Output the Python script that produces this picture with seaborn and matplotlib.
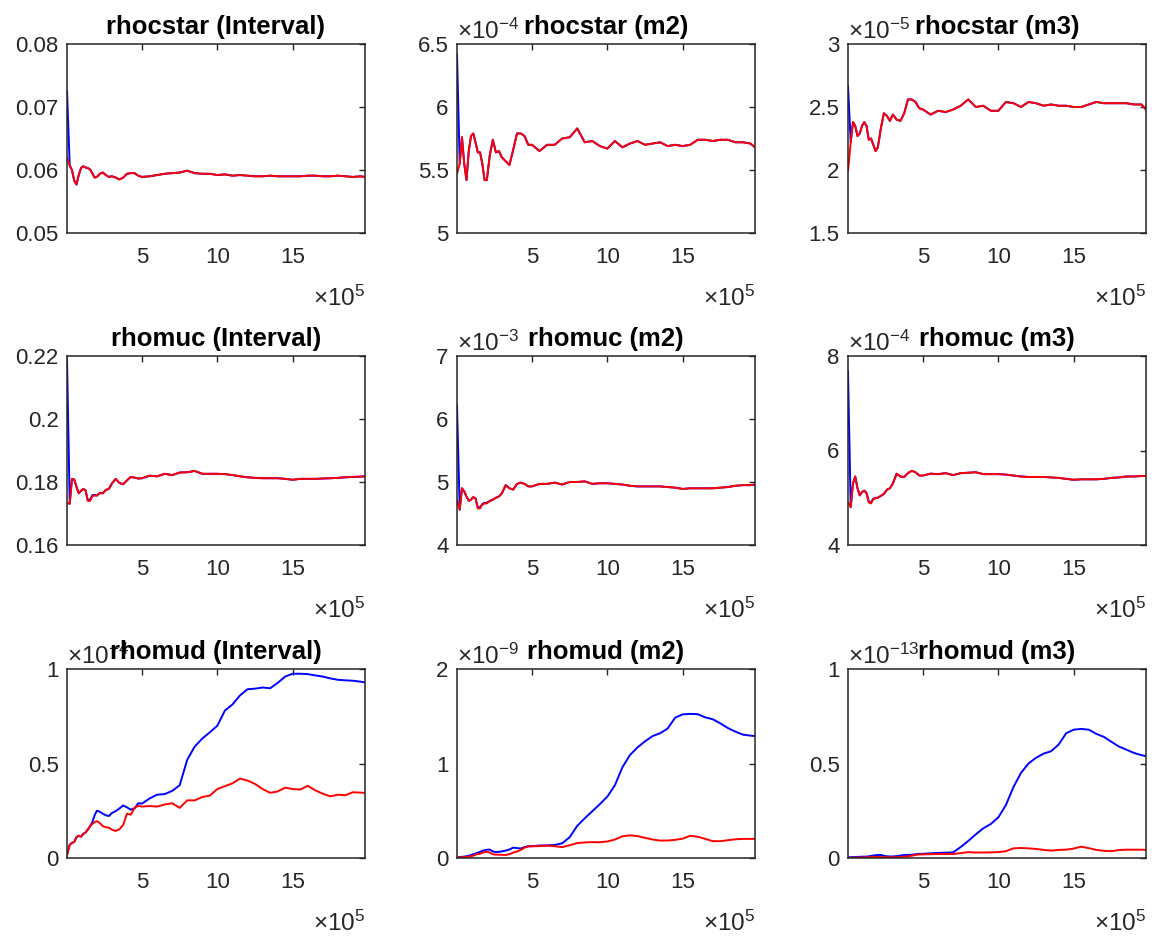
import numpy as np
import pandas as pd
import matplotlib
matplotlib.use("Agg")
import matplotlib.pyplot as plt
from matplotlib.ticker import FuncFormatter
import seaborn as sns

# ---------------- data ----------------
iterations = np.array([2e3, 2e4, 3.5e4, 5e4, 6.5e4, 8e4, 9.5e4, 1.1e5, 1.25e5, 1.4e5, 1.55e5, 1.7e5,
                       1.85e5, 2e5, 2.2e5, 2.4e5, 2.6e5, 2.8e5, 3e5, 3.25e5, 3.5e5, 3.75e5, 4e5,
                       4.25e5, 4.5e5, 4.75e5, 5e5, 5.5e5, 6e5, 6.5e5, 7e5, 7.5e5, 8e5, 8.5e5, 9e5,
                       9.5e5, 1e6, 1.05e6, 1.1e6, 1.15e6, 1.2e6, 1.25e6, 1.3e6, 1.35e6, 1.4e6,
                       1.45e6, 1.5e6, 1.55e6, 1.6e6, 1.65e6, 1.7e6, 1.75e6, 1.8e6, 1.85e6, 1.9e6,
                       1.95e6, 1.98e6])

rhocstar_interval_red = [0.0620, 0.0607, 0.0600, 0.0583, 0.0577, 0.0592, 0.0603, 0.0606, 0.0604, 0.0603,
                         0.0601, 0.0595, 0.0588, 0.0589, 0.0594, 0.0596, 0.0592, 0.0589, 0.0590, 0.0588,
                         0.0585, 0.0588, 0.0594, 0.0595, 0.0595, 0.0591, 0.0589, 0.0590, 0.0592, 0.0594,
                         0.0595, 0.0596, 0.0599, 0.0595, 0.0594, 0.0594, 0.0592, 0.0593, 0.0591, 0.0592,
                         0.0591, 0.0590, 0.0590, 0.0591, 0.0590, 0.0590, 0.0590, 0.0590, 0.0591, 0.0591,
                         0.0590, 0.0590, 0.0591, 0.0590, 0.0589, 0.0590, 0.0589]
rhocstar_interval_blue = [0.0726, 0.0607, 0.0600, 0.0583, 0.0577, 0.0592, 0.0603, 0.0606, 0.0604, 0.0603,
                          0.0601, 0.0595, 0.0588, 0.0589, 0.0594, 0.0596, 0.0592, 0.0589, 0.0590, 0.0588,
                          0.0585, 0.0588, 0.0594, 0.0595, 0.0595, 0.0591, 0.0589, 0.0590, 0.0592, 0.0594,
                          0.0595, 0.0596, 0.0599, 0.0595, 0.0594, 0.0594, 0.0592, 0.0593, 0.0591, 0.0592,
                          0.0591, 0.0590, 0.0590, 0.0591, 0.0590, 0.0590, 0.0590, 0.0590, 0.0591, 0.0591,
                          0.0590, 0.0590, 0.0591, 0.0590, 0.0589, 0.0590, 0.0589]

rhocstar_m2_red = [5.47e-4, 5.55e-4, 5.76e-4, 5.55e-4, 5.42e-4, 5.65e-4, 5.77e-4, 5.79e-4, 5.72e-4, 5.64e-4,
                   5.64e-4, 5.55e-4, 5.42e-4, 5.42e-4, 5.62e-4, 5.74e-4, 5.64e-4, 5.65e-4, 5.60e-4, 5.57e-4,
                   5.54e-4, 5.66e-4, 5.79e-4, 5.79e-4, 5.77e-4, 5.70e-4, 5.70e-4, 5.65e-4, 5.70e-4, 5.70e-4,
                   5.75e-4, 5.76e-4, 5.83e-4, 5.72e-4, 5.73e-4, 5.69e-4, 5.67e-4, 5.73e-4, 5.68e-4, 5.71e-4,
                   5.73e-4, 5.70e-4, 5.71e-4, 5.72e-4, 5.69e-4, 5.70e-4, 5.69e-4, 5.70e-4, 5.74e-4, 5.74e-4,
                   5.73e-4, 5.74e-4, 5.74e-4, 5.72e-4, 5.72e-4, 5.71e-4, 5.68e-4]
rhocstar_m2_blue = [6.42e-4, 5.55e-4, 5.76e-4, 5.55e-4, 5.42e-4, 5.65e-4, 5.77e-4, 5.79e-4, 5.72e-4, 5.64e-4,
                    5.64e-4, 5.55e-4, 5.42e-4, 5.42e-4, 5.62e-4, 5.74e-4, 5.64e-4, 5.65e-4, 5.60e-4, 5.57e-4,
                    5.54e-4, 5.66e-4, 5.79e-4, 5.79e-4, 5.77e-4, 5.70e-4, 5.70e-4, 5.65e-4, 5.70e-4, 5.70e-4,
                    5.75e-4, 5.76e-4, 5.83e-4, 5.72e-4, 5.73e-4, 5.69e-4, 5.67e-4, 5.73e-4, 5.68e-4, 5.71e-4,
                    5.73e-4, 5.70e-4, 5.71e-4, 5.72e-4, 5.69e-4, 5.70e-4, 5.69e-4, 5.70e-4, 5.74e-4, 5.74e-4,
                    5.73e-4, 5.74e-4, 5.74e-4, 5.72e-4, 5.72e-4, 5.71e-4, 5.68e-4]

rhocstar_m3_red = [1.99e-5, 2.22e-5, 2.38e-5, 2.35e-5, 2.27e-5, 2.29e-5, 2.35e-5, 2.38e-5, 2.35e-5, 2.24e-5,
                   2.25e-5, 2.20e-5, 2.15e-5, 2.18e-5, 2.33e-5, 2.45e-5, 2.43e-5, 2.39e-5, 2.44e-5, 2.40e-5,
                   2.39e-5, 2.45e-5, 2.56e-5, 2.56e-5, 2.54e-5, 2.49e-5, 2.48e-5, 2.44e-5, 2.47e-5, 2.46e-5,
                   2.48e-5, 2.51e-5, 2.56e-5, 2.50e-5, 2.51e-5, 2.47e-5, 2.47e-5, 2.54e-5, 2.53e-5, 2.50e-5,
                   2.54e-5, 2.53e-5, 2.51e-5, 2.52e-5, 2.51e-5, 2.51e-5, 2.50e-5, 2.50e-5, 2.52e-5, 2.54e-5,
                   2.53e-5, 2.53e-5, 2.53e-5, 2.53e-5, 2.52e-5, 2.52e-5, 2.48e-5]
rhocstar_m3_blue = [2.67e-5, 2.22e-5, 2.38e-5, 2.35e-5, 2.27e-5, 2.29e-5, 2.35e-5, 2.38e-5, 2.35e-5, 2.24e-5,
                    2.25e-5, 2.20e-5, 2.15e-5, 2.18e-5, 2.33e-5, 2.45e-5, 2.43e-5, 2.39e-5, 2.44e-5, 2.40e-5,
                    2.39e-5, 2.45e-5, 2.56e-5, 2.56e-5, 2.54e-5, 2.49e-5, 2.48e-5, 2.44e-5, 2.47e-5, 2.46e-5,
                    2.48e-5, 2.51e-5, 2.56e-5, 2.50e-5, 2.51e-5, 2.47e-5, 2.47e-5, 2.54e-5, 2.53e-5, 2.50e-5,
                    2.54e-5, 2.53e-5, 2.51e-5, 2.52e-5, 2.51e-5, 2.51e-5, 2.50e-5, 2.50e-5, 2.52e-5, 2.54e-5,
                    2.53e-5, 2.53e-5, 2.53e-5, 2.53e-5, 2.52e-5, 2.52e-5, 2.48e-5]

rhomuc_interval_red = [0.1733, 0.1731, 0.1810, 0.1808, 0.1785, 0.1764, 0.1772, 0.1778, 0.1774, 0.1740,
                       0.1740, 0.1755, 0.1757, 0.1757, 0.1765, 0.1764, 0.1775, 0.1778, 0.1795, 0.1810,
                       0.1797, 0.1793, 0.1805, 0.1816, 0.1814, 0.1811, 0.1812, 0.1820, 0.1818, 0.1826,
                       0.1822, 0.1830, 0.1831, 0.1835, 0.1826, 0.1826, 0.1826, 0.1825, 0.1822, 0.1818,
                       0.1815, 0.1813, 0.1812, 0.1812, 0.1812, 0.1810, 0.1807, 0.1810, 0.1810, 0.1810,
                       0.1811, 0.1812, 0.1813, 0.1815, 0.1816, 0.1817, 0.1818]
rhomuc_interval_blue = [0.2193, 0.1731, 0.1810, 0.1808, 0.1785, 0.1764, 0.1772, 0.1778, 0.1774, 0.1742,
                        0.1744, 0.1758, 0.1759, 0.1757, 0.1765, 0.1764, 0.1775, 0.1778, 0.1795, 0.1810,
                        0.1797, 0.1793, 0.1805, 0.1816, 0.1814, 0.1811, 0.1812, 0.1820, 0.1818, 0.1826,
                        0.1822, 0.1830, 0.1831, 0.1835, 0.1826, 0.1826, 0.1826, 0.1825, 0.1822, 0.1818,
                        0.1815, 0.1813, 0.1812, 0.1812, 0.1812, 0.1810, 0.1807, 0.1810, 0.1810, 0.1810,
                        0.1811, 0.1812, 0.1813, 0.1815, 0.1816, 0.1817, 0.1818]

rhomuc_m2_red = [4.71e-3, 4.56e-3, 4.90e-3, 4.85e-3, 4.77e-3, 4.70e-3, 4.72e-3, 4.76e-3, 4.74e-3, 4.58e-3,
                 4.58e-3, 4.64e-3, 4.66e-3, 4.66e-3, 4.70e-3, 4.72e-3, 4.75e-3, 4.77e-3, 4.82e-3, 4.95e-3,
                 4.90e-3, 4.88e-3, 4.97e-3, 4.99e-3, 4.97e-3, 4.93e-3, 4.93e-3, 4.97e-3, 4.97e-3, 4.99e-3,
                 4.96e-3, 5.00e-3, 5.00e-3, 5.01e-3, 4.97e-3, 4.98e-3, 4.98e-3, 4.97e-3, 4.96e-3, 4.94e-3,
                 4.93e-3, 4.93e-3, 4.93e-3, 4.93e-3, 4.92e-3, 4.91e-3, 4.89e-3, 4.90e-3, 4.90e-3, 4.90e-3,
                 4.90e-3, 4.91e-3, 4.92e-3, 4.94e-3, 4.95e-3, 4.95e-3, 4.96e-3]
rhomuc_m2_blue = [6.22e-3, 4.56e-3, 4.90e-3, 4.85e-3, 4.77e-3, 4.70e-3, 4.72e-3, 4.76e-3, 4.74e-3, 4.60e-3,
                  4.60e-3, 4.65e-3, 4.67e-3, 4.67e-3, 4.70e-3, 4.72e-3, 4.75e-3, 4.77e-3, 4.82e-3, 4.95e-3,
                  4.90e-3, 4.88e-3, 4.97e-3, 4.99e-3, 4.97e-3, 4.93e-3, 4.93e-3, 4.97e-3, 4.97e-3, 4.99e-3,
                  4.96e-3, 5.00e-3, 5.00e-3, 5.01e-3, 4.97e-3, 4.98e-3, 4.98e-3, 4.97e-3, 4.96e-3, 4.94e-3,
                  4.93e-3, 4.93e-3, 4.93e-3, 4.93e-3, 4.92e-3, 4.91e-3, 4.89e-3, 4.90e-3, 4.90e-3, 4.90e-3,
                  4.90e-3, 4.91e-3, 4.92e-3, 4.94e-3, 4.95e-3, 4.95e-3, 4.96e-3]

rhomuc_m3_red = [4.91e-4, 4.80e-4, 5.30e-4, 5.45e-4, 5.20e-4, 5.05e-4, 5.12e-4, 5.15e-4, 5.10e-4, 4.90e-4,
                 4.88e-4, 4.97e-4, 4.99e-4, 5.00e-4, 5.04e-4, 5.08e-4, 5.17e-4, 5.20e-4, 5.30e-4, 5.51e-4,
                 5.45e-4, 5.44e-4, 5.52e-4, 5.57e-4, 5.54e-4, 5.47e-4, 5.47e-4, 5.51e-4, 5.50e-4, 5.52e-4,
                 5.48e-4, 5.52e-4, 5.53e-4, 5.54e-4, 5.50e-4, 5.50e-4, 5.50e-4, 5.49e-4, 5.47e-4, 5.45e-4,
                 5.44e-4, 5.44e-4, 5.44e-4, 5.43e-4, 5.42e-4, 5.40e-4, 5.38e-4, 5.39e-4, 5.39e-4, 5.39e-4,
                 5.40e-4, 5.42e-4, 5.43e-4, 5.45e-4, 5.45e-4, 5.46e-4, 5.46e-4]
rhomuc_m3_blue = [7.69e-4, 4.80e-4, 5.30e-4, 5.45e-4, 5.20e-4, 5.05e-4, 5.12e-4, 5.15e-4, 5.10e-4, 4.92e-4,
                  4.90e-4, 4.98e-4, 5.00e-4, 5.00e-4, 5.04e-4, 5.08e-4, 5.17e-4, 5.20e-4, 5.30e-4, 5.51e-4,
                  5.45e-4, 5.44e-4, 5.52e-4, 5.57e-4, 5.54e-4, 5.47e-4, 5.47e-4, 5.51e-4, 5.50e-4, 5.52e-4,
                  5.48e-4, 5.52e-4, 5.53e-4, 5.54e-4, 5.50e-4, 5.50e-4, 5.50e-4, 5.49e-4, 5.47e-4, 5.45e-4,
                  5.44e-4, 5.44e-4, 5.44e-4, 5.43e-4, 5.42e-4, 5.40e-4, 5.38e-4, 5.39e-4, 5.39e-4, 5.39e-4,
                  5.40e-4, 5.42e-4, 5.43e-4, 5.45e-4, 5.45e-4, 5.46e-4, 5.46e-4]

rhomud_interval_blue = [0.020e-4, 0.070e-4, 0.080e-4, 0.085e-4, 0.110e-4, 0.118e-4, 0.113e-4, 0.128e-4, 0.135e-4,
                        0.150e-4, 0.168e-4, 0.190e-4, 0.225e-4, 0.250e-4, 0.245e-4, 0.234e-4, 0.226e-4, 0.222e-4,
                        0.238e-4, 0.248e-4, 0.262e-4, 0.278e-4, 0.268e-4, 0.256e-4, 0.262e-4, 0.290e-4, 0.288e-4,
                        0.315e-4, 0.335e-4, 0.338e-4, 0.355e-4, 0.385e-4, 0.520e-4, 0.590e-4, 0.632e-4, 0.665e-4,
                        0.700e-4, 0.780e-4, 0.812e-4, 0.860e-4, 0.893e-4, 0.896e-4, 0.902e-4, 0.898e-4, 0.926e-4,
                        0.960e-4, 0.975e-4, 0.975e-4, 0.973e-4, 0.966e-4, 0.960e-4, 0.950e-4, 0.943e-4, 0.940e-4,
                        0.938e-4, 0.933e-4, 0.929e-4]
rhomud_interval_red = [0.012e-4, 0.070e-4, 0.080e-4, 0.085e-4, 0.110e-4, 0.118e-4, 0.113e-4, 0.126e-4, 0.135e-4,
                       0.150e-4, 0.168e-4, 0.180e-4, 0.190e-4, 0.195e-4, 0.185e-4, 0.168e-4, 0.163e-4, 0.160e-4,
                       0.150e-4, 0.143e-4, 0.152e-4, 0.175e-4, 0.235e-4, 0.229e-4, 0.265e-4, 0.276e-4, 0.272e-4,
                       0.275e-4, 0.272e-4, 0.283e-4, 0.290e-4, 0.265e-4, 0.305e-4, 0.305e-4, 0.323e-4, 0.330e-4,
                       0.365e-4, 0.380e-4, 0.395e-4, 0.420e-4, 0.410e-4, 0.392e-4, 0.365e-4, 0.345e-4, 0.352e-4,
                       0.372e-4, 0.365e-4, 0.362e-4, 0.382e-4, 0.358e-4, 0.340e-4, 0.326e-4, 0.335e-4, 0.332e-4,
                       0.348e-4, 0.346e-4, 0.344e-4]

rhomud_m2_blue = [0.007e-9, 0.010e-9, 0.012e-9, 0.015e-9, 0.018e-9, 0.025e-9, 0.030e-9, 0.040e-9, 0.048e-9,
                  0.055e-9, 0.065e-9, 0.075e-9, 0.082e-9, 0.088e-9, 0.089e-9, 0.070e-9, 0.062e-9, 0.065e-9,
                  0.070e-9, 0.078e-9, 0.090e-9, 0.110e-9, 0.105e-9, 0.100e-9, 0.115e-9, 0.125e-9, 0.125e-9,
                  0.132e-9, 0.134e-9, 0.138e-9, 0.155e-9, 0.220e-9, 0.340e-9, 0.420e-9, 0.495e-9, 0.570e-9,
                  0.650e-9, 0.770e-9, 0.960e-9, 1.090e-9, 1.170e-9, 1.235e-9, 1.290e-9, 1.320e-9, 1.370e-9,
                  1.485e-9, 1.520e-9, 1.525e-9, 1.522e-9, 1.488e-9, 1.468e-9, 1.425e-9, 1.375e-9, 1.337e-9,
                  1.305e-9, 1.295e-9, 1.290e-9]
rhomud_m2_red = [0.004e-9, 0.006e-9, 0.008e-9, 0.010e-9, 0.012e-9, 0.014e-9, 0.018e-9, 0.025e-9, 0.035e-9,
                 0.042e-9, 0.045e-9, 0.055e-9, 0.062e-9, 0.066e-9, 0.058e-9, 0.040e-9, 0.035e-9, 0.035e-9,
                 0.034e-9, 0.032e-9, 0.040e-9, 0.058e-9, 0.068e-9, 0.085e-9, 0.110e-9, 0.122e-9, 0.124e-9,
                 0.126e-9, 0.130e-9, 0.125e-9, 0.115e-9, 0.135e-9, 0.158e-9, 0.165e-9, 0.168e-9, 0.167e-9,
                 0.175e-9, 0.195e-9, 0.230e-9, 0.240e-9, 0.232e-9, 0.213e-9, 0.196e-9, 0.184e-9, 0.185e-9,
                 0.192e-9, 0.205e-9, 0.235e-9, 0.225e-9, 0.202e-9, 0.178e-9, 0.178e-9, 0.188e-9, 0.198e-9,
                 0.202e-9, 0.202e-9, 0.202e-9]

rhomud_m3_blue = [0.004e-13, 0.004e-13, 0.005e-13, 0.005e-13, 0.006e-13, 0.006e-13, 0.007e-13, 0.007e-13,
                  0.007e-13, 0.009e-13, 0.011e-13, 0.013e-13, 0.015e-13, 0.016e-13, 0.016e-13, 0.012e-13,
                  0.009e-13, 0.008e-13, 0.008e-13, 0.010e-13, 0.013e-13, 0.016e-13, 0.016e-13, 0.017e-13,
                  0.020e-13, 0.022e-13, 0.022e-13, 0.025e-13, 0.027e-13, 0.028e-13, 0.030e-13, 0.058e-13,
                  0.090e-13, 0.125e-13, 0.157e-13, 0.180e-13, 0.215e-13, 0.280e-13, 0.375e-13, 0.450e-13,
                  0.500e-13, 0.530e-13, 0.552e-13, 0.565e-13, 0.600e-13, 0.660e-13, 0.679e-13, 0.683e-13,
                  0.679e-13, 0.657e-13, 0.641e-13, 0.615e-13, 0.590e-13, 0.573e-13, 0.556e-13, 0.544e-13,
                  0.539e-13]
rhomud_m3_red = [0.000e-13, 0.001e-13, 0.001e-13, 0.002e-13, 0.002e-13, 0.002e-13, 0.003e-13, 0.003e-13,
                 0.003e-13, 0.004e-13, 0.005e-13, 0.005e-13, 0.006e-13, 0.006e-13, 0.005e-13, 0.004e-13,
                 0.004e-13, 0.004e-13, 0.004e-13, 0.004e-13, 0.005e-13, 0.007e-13, 0.009e-13, 0.012e-13,
                 0.016e-13, 0.019e-13, 0.019e-13, 0.020e-13, 0.021e-13, 0.021e-13, 0.021e-13, 0.026e-13,
                 0.031e-13, 0.029e-13, 0.029e-13, 0.030e-13, 0.031e-13, 0.036e-13, 0.051e-13, 0.053e-13,
                 0.051e-13, 0.048e-13, 0.043e-13, 0.039e-13, 0.043e-13, 0.044e-13, 0.050e-13, 0.060e-13,
                 0.052e-13, 0.043e-13, 0.038e-13, 0.036e-13, 0.042e-13, 0.044e-13, 0.044e-13, 0.044e-13,
                 0.043e-13]

titles = ["rhocstar (Interval)", "rhocstar (m2)", "rhocstar (m3)",
          "rhomuc (Interval)", "rhomuc (m2)", "rhomuc (m3)",
          "rhomud (Interval)", "rhomud (m2)", "rhomud (m3)"]
blue_series = [rhocstar_interval_blue, rhocstar_m2_blue, rhocstar_m3_blue,
               rhomuc_interval_blue, rhomuc_m2_blue, rhomuc_m3_blue,
               rhomud_interval_blue, rhomud_m2_blue, rhomud_m3_blue]
red_series = [rhocstar_interval_red, rhocstar_m2_red, rhocstar_m3_red,
              rhomuc_interval_red, rhomuc_m2_red, rhomuc_m3_red,
              rhomud_interval_red, rhomud_m2_red, rhomud_m3_red]
y_exponents = [0, -4, -5, 0, -3, -4, -4, -9, -13]
y_ticks = [[0.05, 0.06, 0.07, 0.08], [5e-4, 5.5e-4, 6e-4, 6.5e-4], [1.5e-5, 2e-5, 2.5e-5, 3e-5],
           [0.16, 0.18, 0.2, 0.22], [4e-3, 5e-3, 6e-3, 7e-3], [4e-4, 6e-4, 8e-4],
           [0, 0.5e-4, 1e-4], [0, 1e-9, 2e-9], [0, 0.5e-13, 1e-13]]
x_ticks = [5e5, 10e5, 15e5]
x_exponent = 5

# ---------------- style ----------------
sns.set_style("white")
plt.rcParams["font.family"] = ["Liberation Sans", "DejaVu Sans"]
plt.rcParams["mathtext.fontset"] = "custom"
plt.rcParams["mathtext.rm"] = "Liberation Sans"
plt.rcParams["mathtext.it"] = "Liberation Sans:italic"
plt.rcParams["mathtext.bf"] = "Liberation Sans:bold"

AX_COLOR = "#262626"
W, H = 1152, 943
fig = plt.figure(figsize=(W / 100, H / 100), dpi=100)
fig.patch.set_facecolor("white")

col_left = [67, 457, 848]
row_top = [44, 356, 669]
ax_w, ax_h = 298, 189
TICK_FS = 16
EXP_FS = 17.5
TITLE_FS = 18.5

for i in range(9):
    r, c = divmod(i, 3)
    left = col_left[c] / W
    bottom = 1 - (row_top[r] + ax_h) / H
    ax = fig.add_axes([left, bottom, ax_w / W, ax_h / H])
    df = pd.DataFrame({"iter": np.concatenate([iterations, iterations]),
                       "value": np.concatenate([blue_series[i], red_series[i]]),
                       "chain": ["blue"] * len(iterations) + ["red"] * len(iterations)})
    sns.lineplot(data=df, x="iter", y="value", hue="chain",
                 palette={"blue": "#0000FF", "red": "#FF0000"},
                 linewidth=1.4, legend=False, ax=ax, sort=False)
    ax.set_xlim(iterations[0], iterations[-1])
    yt = y_ticks[i]
    ax.set_ylim(yt[0], yt[-1])
    ax.set_yticks(yt)
    ax.set_xticks(x_ticks)
    e = y_exponents[i]
    ax.yaxis.set_major_formatter(FuncFormatter(lambda v, p, e=e: f"{round(v / 10.0**e, 6):g}"))
    ax.xaxis.set_major_formatter(FuncFormatter(lambda v, p: f"{round(v / 10.0**x_exponent, 6):g}"))
    ax.set_xlabel("")
    ax.set_ylabel("")
    for s in ax.spines.values():
        s.set_visible(True)
        s.set_color(AX_COLOR)
        s.set_linewidth(1.1)
    ax.tick_params(axis="both", direction="in", top=True, right=True, length=4.5, width=1.0,
                   color=AX_COLOR, labelcolor=AX_COLOR, labelsize=TICK_FS)
    ax.tick_params(axis="x", pad=10)
    ax.tick_params(axis="y", pad=6)
    if e != 0:
        ax.text(0.0, 1.025, r"$\times\mathregular{10^{%d}}$" % e, transform=ax.transAxes,
                ha="left", va="baseline", fontsize=EXP_FS, color=AX_COLOR)
    ax.set_title(titles[i], fontsize=TITLE_FS, fontweight="bold", color="black", pad=7)
    ax.text(1.0, -0.385, r"$\times\mathregular{10^{%d}}$" % x_exponent, transform=ax.transAxes,
            ha="right", va="baseline", fontsize=EXP_FS, color=AX_COLOR)

fig.savefig("out.png", dpi=100, facecolor="white")
